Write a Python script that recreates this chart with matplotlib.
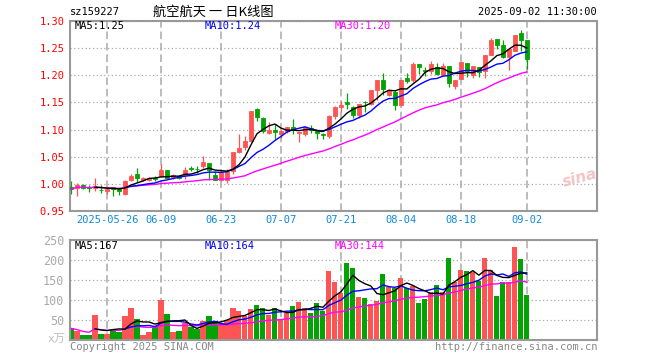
import numpy as np
import pandas as pd
import matplotlib
matplotlib.use("Agg")
import matplotlib.pyplot as plt

plt.rcParams["font.family"] = ["DejaVu Sans Mono", "Noto Sans CJK SC"]

# trading days (2025-06-02 was a holiday)
dates = pd.bdate_range("2025-05-16", "2025-09-02").drop(pd.Timestamp("2025-06-02"))

opens = [0.994, 0.993, 0.997, 0.994, 0.992, 0.989, 0.986, 0.994, 0.990, 0.982,
         1.007, 1.018, 1.007, 1.007, 1.011, 1.015, 1.026, 1.012, 1.015, 1.016,
         1.030, 1.028, 1.032, 1.039, 1.017, 1.008, 1.008, 1.023, 1.058, 1.068,
         1.079, 1.138, 1.122, 1.094, 1.100, 1.091, 1.097, 1.104, 1.093, 1.091,
         1.103, 1.100, 1.091, 1.088, 1.125, 1.142, 1.150, 1.142, 1.126, 1.151,
         1.147, 1.173, 1.192, 1.163, 1.170, 1.145, 1.195, 1.191, 1.221, 1.209,
         1.208, 1.215, 1.201, 1.217, 1.180, 1.193, 1.222, 1.200, 1.215, 1.207,
         1.237, 1.267, 1.256, 1.234, 1.245, 1.277, 1.265]
highs = [1.005, 1.001, 0.999, 0.998, 1.010, 0.997, 0.993, 0.994, 0.993, 1.007,
         1.019, 1.029, 1.012, 1.012, 1.015, 1.037, 1.026, 1.018, 1.017, 1.031,
         1.032, 1.033, 1.052, 1.039, 1.023, 1.024, 1.028, 1.058, 1.091, 1.089,
         1.134, 1.140, 1.124, 1.114, 1.111, 1.099, 1.105, 1.119, 1.095, 1.107,
         1.109, 1.100, 1.094, 1.127, 1.144, 1.153, 1.167, 1.144, 1.148, 1.152,
         1.173, 1.192, 1.205, 1.174, 1.173, 1.191, 1.205, 1.224, 1.221, 1.215,
         1.227, 1.223, 1.223, 1.217, 1.191, 1.225, 1.223, 1.217, 1.215, 1.237,
         1.268, 1.267, 1.265, 1.249, 1.275, 1.283, 1.265]
lows = [0.982, 0.977, 0.990, 0.985, 0.987, 0.983, 0.982, 0.977, 0.980, 0.980,
        1.005, 1.004, 1.005, 1.005, 1.005, 1.013, 1.010, 1.009, 1.009, 1.009,
        1.024, 1.020, 1.030, 1.008, 1.007, 1.005, 1.001, 1.019, 1.057, 1.063,
        1.078, 1.116, 1.093, 1.092, 1.082, 1.084, 1.093, 1.091, 1.078, 1.088,
        1.093, 1.083, 1.082, 1.085, 1.119, 1.133, 1.138, 1.121, 1.121, 1.132,
        1.146, 1.155, 1.163, 1.161, 1.136, 1.144, 1.185, 1.188, 1.202, 1.199,
        1.203, 1.200, 1.201, 1.178, 1.174, 1.193, 1.197, 1.195, 1.197, 1.195,
        1.237, 1.248, 1.231, 1.210, 1.245, 1.245, 1.211]
closes = [0.990, 0.998, 0.993, 0.992, 0.996, 0.988, 0.991, 0.991, 0.987, 1.005,
          1.015, 1.010, 1.010, 1.010, 1.009, 1.025, 1.011, 1.016, 1.010, 1.026,
          1.027, 1.027, 1.040, 1.025, 1.008, 1.022, 1.022, 1.058, 1.066, 1.079,
          1.134, 1.124, 1.098, 1.100, 1.095, 1.097, 1.104, 1.099, 1.095, 1.104,
          1.099, 1.094, 1.090, 1.125, 1.142, 1.146, 1.148, 1.126, 1.147, 1.150,
          1.173, 1.191, 1.175, 1.173, 1.145, 1.191, 1.190, 1.221, 1.215, 1.208,
          1.221, 1.202, 1.217, 1.185, 1.191, 1.224, 1.207, 1.217, 1.206, 1.237,
          1.265, 1.256, 1.233, 1.249, 1.274, 1.265, 1.230]
# volume, in 10k units
volumes = [29, 23, 12.5, 12.5, 62.5, 15, 15, 25, 21, 60,
           80, 52, 12.5, 21, 33, 100, 65, 20, 23, 42,
           32, 28, 48, 60, 48, 43, 50, 81, 73, 60,
           77.5, 87.5, 81, 62.5, 80, 52, 67, 85, 96, 80,
           68, 93, 72, 173, 146, 118, 192, 180, 108, 105,
           90, 98, 165, 132, 130, 155, 130, 135, 93, 102,
           120, 138, 120, 205, 146, 175, 172, 169, 148, 205,
           175, 110, 145, 145, 233, 203, 113]

tick_dates = ["2025-05-26", "2025-06-09", "2025-06-23", "2025-07-07",
              "2025-07-21", "2025-08-04", "2025-08-18", "2025-09-02"]
tick_labels = ["2025-05-26", "06-09", "06-23", "07-07", "07-21", "08-04", "08-18", "09-02"]

RED = "#ff5454"
GREEN = "#03a303"
GRAY = "#999999"
BLUE_TXT = "#1089d8"

W, H = 660, 360


def rect(x0, y0, x1, y1):
    return [x0 / W, 1 - y1 / H, (x1 - x0) / W, (y1 - y0) / H]


def trunc(v, nd):
    # sina shows the moving averages truncated, not rounded
    f = 10 ** nd
    return np.floor(v * f + 1e-9) / f


df = pd.DataFrame({"open": opens, "high": highs, "low": lows, "close": closes, "vol": volumes})
x = np.arange(len(df))
up = df["close"] >= df["open"]
colors = np.where(up, RED, GREEN)

fig = plt.figure(figsize=(6.6, 3.6), dpi=100)
ax = fig.add_axes(rect(70, 21, 597, 211))
axv = fig.add_axes(rect(70, 240, 597, 340))

tick_pos = [dates.get_loc(pd.Timestamp(d)) for d in tick_dates]

for a in (ax, axv):
    a.set_xlim(-0.17, 87.7)
    for s in a.spines.values():
        s.set_color(GRAY)
        s.set_linewidth(1.5)
    a.set_xticks(tick_pos)
    a.tick_params(length=0)
    a.grid(axis="x", color="#aaaaaa", linestyle=(0, (5, 2.5)), linewidth=1.1)
    a.grid(axis="y", color="#aaaaaa", linestyle=(0, (1, 2)), linewidth=0.9)
    a.set_axisbelow(True)

# candles
ax.vlines(x, df["low"], df["high"], colors=colors, linewidth=0.9, zorder=2)
body = (df["close"] - df["open"]).abs()
ax.bar(x, body, bottom=df[["open", "close"]].min(axis=1), width=0.72,
       color=colors, edgecolor=colors, linewidth=0.6, zorder=3)

ma5 = df["close"].rolling(5).mean()
ma10 = df["close"].rolling(10).mean()
ma30 = df["close"].rolling(30, min_periods=1).mean()
ax.plot(x, ma30, color="#ff00ff", linewidth=1.0, zorder=4)
ax.plot(x, ma10, color="#0000ff", linewidth=1.0, zorder=4)
ax.plot(x, ma5, color="black", linewidth=1.0, zorder=4)

ax.set_ylim(0.95, 1.30)
ax.set_yticks(np.arange(0.95, 1.301, 0.05))
ax.set_yticklabels([f"{v:.2f}" for v in np.arange(0.95, 1.301, 0.05)], color="red", fontsize=7.5)
ax.set_xticklabels(tick_labels, color=BLUE_TXT, fontsize=7.5)
ax.tick_params(axis="x", pad=3)
ax.tick_params(axis="y", pad=4)

# volume
axv.bar(x, df["vol"], width=0.85, color=colors, zorder=2)
vma5 = df["vol"].rolling(5).mean()
vma10 = df["vol"].rolling(10).mean()
vma30 = df["vol"].rolling(30, min_periods=1).mean()
axv.plot(x, vma30, color="#ff00ff", linewidth=1.0, zorder=4)
axv.plot(x, vma10, color="#0000ff", linewidth=1.0, zorder=4)
axv.plot(x, vma5, color="black", linewidth=1.0, zorder=4)
axv.set_ylim(0, 250)
axv.set_yticks([0, 50, 100, 150, 200, 250])
axv.set_yticklabels(["", "50", "100", "150", "200", "250"], color="#aaaaaa", fontsize=8.5)
axv.set_xticklabels([])
axv.tick_params(axis="y", pad=4)


# texts
def ftext(px, py, s, **kw):
    fig.text(px / W, 1 - py / H, s, **kw)


ftext(70, 12, "sz159227", fontsize=7.5, va="center", ha="left")
ftext(213, 12, "航空航天 一 日K线图", fontsize=9.5, va="center", ha="center",
      family=["Noto Sans CJK SC", "DejaVu Sans"])
ftext(597, 12, "2025-09-02 11:30:00", fontsize=7.5, va="center", ha="right")

ftext(75, 26, f"MA5:{trunc(ma5.iloc[-1], 2):.2f}", fontsize=7.5, va="center", color="black")
ftext(205, 26, f"MA10:{trunc(ma10.iloc[-1], 2):.2f}", fontsize=7.5, va="center", color="#0000ff")
ftext(335, 26, f"MA30:{trunc(ma30.iloc[-1], 2):.2f}", fontsize=7.5, va="center", color="#ff00ff")

ftext(75, 246, f"MA5:{trunc(vma5.iloc[-1], 0):.0f}", fontsize=7.5, va="center", color="black")
ftext(205, 246, f"MA10:{trunc(vma10.iloc[-1], 0):.0f}", fontsize=7.5, va="center", color="#0000ff")
ftext(335, 246, f"MA30:{trunc(vma30.iloc[-1], 0):.0f}", fontsize=7.5, va="center", color="#ff00ff")

ftext(65, 339, "x万", fontsize=8, va="center", ha="right", color="#bbbbbb",
      family=["DejaVu Sans Mono", "Noto Sans CJK SC"])
ftext(70, 347, "Copyright 2025 SINA.COM", fontsize=7.5, va="center", ha="left", color="#888888")
ftext(597, 347, "http://finance.sina.com.cn", fontsize=7.5, va="center", ha="right", color="#888888")

ftext(580, 178, "sina", fontsize=11, va="center", ha="center", color="#f3c4c4",
      style="italic", weight="bold", rotation=15, family="DejaVu Sans")

fig.savefig("out.png", dpi=100)
